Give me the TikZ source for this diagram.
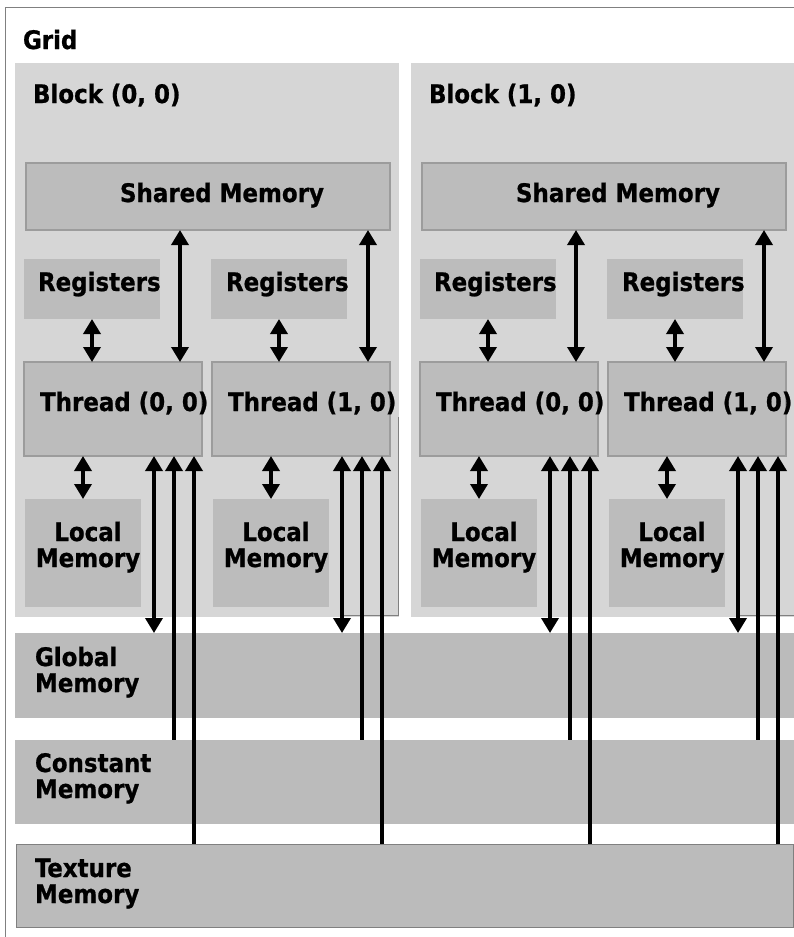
\documentclass[tikz,border=0pt]{standalone}
\usepackage{fontspec}
\setmainfont{DejaVu Sans Condensed}[BoldFeatures={FakeBold=0.8}]
\usetikzlibrary{arrows.meta,calc}
\definecolor{blockfill}{HTML}{D6D6D6}
\definecolor{boxfill}{HTML}{BCBCBC}
\definecolor{boxborder}{HTML}{9C9C9C}
\definecolor{memfill}{HTML}{BBBBBB}
\definecolor{framec}{HTML}{808080}
\tikzset{
  lbl/.style={inner sep=0pt, outer sep=0pt, font=\fontsize{25.5}{26}\selectfont\bfseries, text=black},
  area/.style={inner sep=0pt, outer sep=0pt, anchor=north west},
  blockbox/.style={area, fill=blockfill},
  membox/.style={area, fill=boxfill, draw=boxborder, line width=1.2pt},
  regbox/.style={area, fill=boxfill},
  gmem/.style={area, fill=memfill},
  tip/.tip={Triangle[width=17pt,length=15pt]},
  biarrow/.style={line width=3.5pt, {tip}-{tip}},
  onearrow/.style={line width=3.5pt, {tip}-},
}
\begin{document}
\begin{tikzpicture}[x=1pt,y=-1pt]
\clip (0,0) rectangle (794,937);
\fill[white] (0,0) rectangle (794,937);
% grid frame
\draw[framec, line width=1pt] (5,950) -- (5,7) -- (800,7);
\node[lbl, anchor=base west] (grid) at (23,49) {Grid};
% memories
\node[gmem, minimum width=790pt, minimum height=85pt] (glob) at (15,633) {};
\node[lbl, anchor=base west, align=left] (globt) at (35,692) {Global\\Memory};
\node[gmem, minimum width=790pt, minimum height=84pt] (const) at (15,740) {};
\node[lbl, anchor=base west, align=left] (constt) at (35,798) {Constant\\Memory};
\node[gmem, draw=framec, line width=1pt, minimum width=777pt, minimum height=83pt] (tex) at (16,844) {};
\node[lbl, anchor=base west, align=left] (text) at (35,903) {Texture\\Memory};
% blocks
\foreach \b/\ox in {0/0,1/396}{
\begin{scope}[xshift=\ox pt]
  \node[blockbox, minimum width=384pt, minimum height=554pt] (blk\b) at (15,63) {};
  \node[lbl, anchor=base west] (blkt\b) at (33,103) {Block (\b, 0)};
  \node[membox, minimum width=364pt, minimum height=67pt] (sh\b) at (26,163) {};
  \node[lbl, anchor=base west] (sht\b) at (120,202) {Shared Memory};
  \node[regbox, minimum width=136pt, minimum height=60pt] (ra\b) at (24,259) {};
  \node[lbl, anchor=base west] (rat\b) at (38,291) {Registers};
  \node[regbox, minimum width=136pt, minimum height=60pt] (rb\b) at (211,259) {};
  \node[lbl, anchor=base west] (rbt\b) at (226,291) {Registers};
  \node[membox, minimum width=178pt, minimum height=94pt] (ta\b) at (24,362) {};
  \node[membox, minimum width=178pt, minimum height=94pt] (tb\b) at (212,362) {};
  \node[lbl, anchor=base west] (tat\b) at (40,411) {Thread (0, 0)};
  \node[lbl, anchor=base west] (tbt\b) at (228,411) {Thread (1, 0)};
  \node[regbox, minimum width=116pt, minimum height=108pt] (la\b) at (25,499) {};
  \node[lbl, anchor=base, align=center] (lat\b) at (88,567) {Local\\Memory};
  \node[regbox, minimum width=116pt, minimum height=108pt] (lb\b) at (213,499) {};
  \node[lbl, anchor=base, align=center] (lbt\b) at (276,567) {Local\\Memory};
  \draw[framec, line width=0.8pt] (398,417) -- (398,615) -- (343,615);
  % arrows
  \foreach \r/\t/\l in {ra/ta/la, rb/tb/lb}{
    \draw[biarrow] (\r\b.south) -- (\r\b.south |- \t\b.north);
    \draw[biarrow] (\t\b.south -| \l\b.north) -- (\l\b.north);
    \coordinate (p) at ([xshift=-22pt]\t\b.north east);
    \draw[biarrow] (p |- sh\b.south) -- (p);
    \coordinate (q) at ([xshift=-48pt]\t\b.south east);
    \draw[biarrow] (q) -- (q |- glob.north);
    \coordinate (c) at ([xshift=-28pt]\t\b.south east);
    \draw[onearrow] (c) -- (c |- const.north);
    \coordinate (d) at ([xshift=-8pt]\t\b.south east);
    \draw[onearrow] (d) -- (d |- tex.north);
  }
\end{scope}
}
\end{tikzpicture}
\end{document}
